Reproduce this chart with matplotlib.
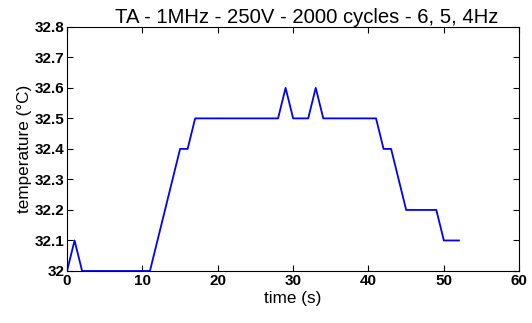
import matplotlib
matplotlib.use("Agg")
import matplotlib.pyplot as plt

# time (s) and measured temperature (°C)
time_s = list(range(0, 53))
temperature = ([32.0, 32.1] + [32.0] * 10 +
               [32.1, 32.2, 32.3, 32.4, 32.4] + [32.5] * 12 +
               [32.6, 32.5, 32.5, 32.5, 32.6] + [32.5] * 8 +
               [32.4, 32.4, 32.3] + [32.2] * 5 + [32.1] * 3)

x_ticks = [0, 10, 20, 30, 40, 50, 60]
y_ticks = [32.0, 32.1, 32.2, 32.3, 32.4, 32.5, 32.6, 32.7, 32.8]
y_labels = ["32", "32.1", "32.2", "32.3", "32.4", "32.5", "32.6", "32.7", "32.8"]

plt.rcParams["font.family"] = ["Liberation Sans", "DejaVu Sans"]

fig = plt.figure(figsize=(5.32, 3.23), dpi=100)
ax = fig.add_axes([0.126, 0.161, 0.850, 0.756])
ax.plot(time_s, temperature, color="#0000ff", linewidth=1.3)

ax.set_xlim(0, 60)
ax.set_ylim(32.0, 32.8)
ax.set_xticks(x_ticks)
ax.set_yticks(y_ticks)
ax.set_yticklabels(y_labels)
ax.tick_params(direction="in", top=True, right=True, length=4, width=0.8, pad=2,
               labelsize=11)
for lab in ax.get_xticklabels() + ax.get_yticklabels():
    lab.set_fontweight("bold")
for s in ax.spines.values():
    s.set_linewidth(0.8)

ax.set_xlabel("time (s)", fontsize=12.3, labelpad=2)
ax.set_ylabel("temperature (°C)", fontsize=12.3, labelpad=2)
ax.set_title("TA - 1MHz - 250V - 2000 cycles - 6, 5, 4Hz", fontsize=14.6,
             x=0.53, pad=3)

fig.savefig("out.png", dpi=100)
